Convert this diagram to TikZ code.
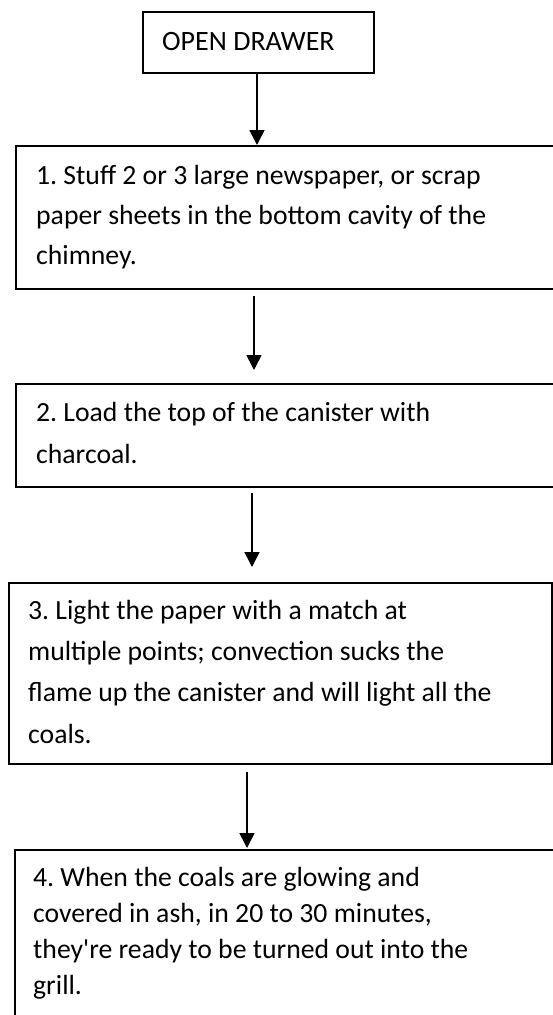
\documentclass[tikz,border=0pt]{standalone}
\usepackage{fontspec}
\setmainfont{Carlito}[Ligatures=TeXOff]
\usetikzlibrary{arrows.meta}
\frenchspacing
\begin{document}
\begin{tikzpicture}[x=1pt,y=-1pt,
  boxshape/.style={draw, line width=1.6pt, rectangle, inner sep=0pt, anchor=north west},
  steptext/.style={anchor=base west, inner sep=0pt, align=left},
  arr/.style={line width=1.6pt, -{Triangle[length=15pt,width=15pt]}}]
\useasboundingbox (0,0) rectangle (553,1015);
\clip (0,0) rectangle (553,1015);
% boxes
\node[boxshape, minimum width=231pt, minimum height=61pt] (b0) at (142,11) {};
\node[boxshape, minimum width=600pt, minimum height=143pt] (b1) at (15,145) {};
\node[boxshape, minimum width=600pt, minimum height=103pt] (b2) at (15,383) {};
\node[boxshape, minimum width=543pt, minimum height=181pt] (b3) at (8,582) {};
\node[boxshape, minimum width=600pt, minimum height=300pt] (b4) at (14,849) {};
% texts (anchored at the baseline of their last line)
\node[steptext, font=\fontsize{28}{33}\selectfont] (t0) at (162,50) {OPEN DRAWER};
\node[steptext, font=\fontsize{27.7}{40}\selectfont] (t1) at (36,264) {1. Stuff 2 or 3 large newspaper, or scrap\\paper sheets in the bottom cavity of the\\chimney.};
\node[steptext, font=\fontsize{27.7}{42}\selectfont] (t2) at (36,463) {2. Load the top of the canister with\\charcoal.};
\node[steptext, font=\fontsize{27.7}{41.3}\selectfont] (t3) at (28,743) {3. Light the paper with a match at\\multiple points; convection sucks the\\flame up the canister and will light all the\\coals.};
\node[steptext, font=\fontsize{27.7}{36}\selectfont] (t4) at (33,994) {4. When the coals are glowing and\\covered in ash, in 20 to 30 minutes,\\they're ready to be turned out into the\\grill.};
% arrow end points
\coordinate (e1) at (257,145);
\coordinate (s2) at (254,296);
\coordinate (e2) at (254,370);
\coordinate (s3) at (252,493);
\coordinate (e3) at (252,567);
\coordinate (s4) at (247,772);
\coordinate (e4) at (247,848);
% arrows
\draw[arr] (b0.south -| e1) -- (e1);
\draw[arr] (s2) -- (e2);
\draw[arr] (s3) -- (e3);
\draw[arr] (s4) -- (e4);
\end{tikzpicture}
\end{document}
